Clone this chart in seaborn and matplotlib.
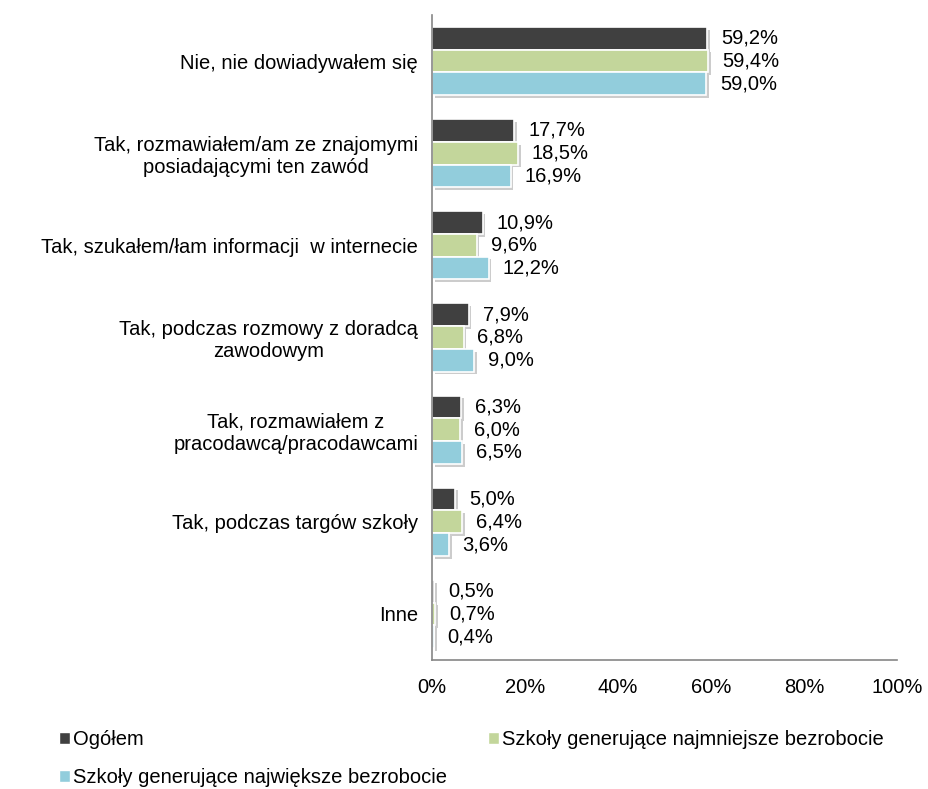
import numpy as np
import pandas as pd
import seaborn as sns
import matplotlib
matplotlib.use("Agg")
import matplotlib.pyplot as plt
import matplotlib.patheffects as pe
from matplotlib.patches import Patch

# data
categories = [
    "Nie, nie dowiadywałem się",
    "Tak, rozmawiałem/am ze znajomymi\nposiadającymi ten zawód",
    "Tak, szukałem/łam informacji  w internecie",
    "Tak, podczas rozmowy z doradcą\nzawodowym",
    "Tak, rozmawiałem z\npracodawcą/pracodawcami",
    "Tak, podczas targów szkoły",
    "Inne",
]
series = ["Ogółem",
          "Szkoły generujące najmniejsze bezrobocie",
          "Szkoły generujące największe bezrobocie"]
ogolem = [59.2, 17.7, 10.9, 7.9, 6.3, 5.0, 0.5]
najmniejsze = [59.4, 18.5, 9.6, 6.8, 6.0, 6.4, 0.7]
najwieksze = [59.0, 16.9, 12.2, 9.0, 6.5, 3.6, 0.4]
colors = ["#404040", "#C3D69B", "#92CDDC"]

rows = []
for s, vals in zip(series, [ogolem, najmniejsze, najwieksze]):
    for c, v in zip(categories, vals):
        rows.append({"kategoria": c, "seria": s, "wartosc": v / 100})
df = pd.DataFrame(rows)

sns.set_style("white")
plt.rcParams["font.family"] = ["Liberation Sans", "DejaVu Sans"]
plt.rcParams["text.color"] = "black"
plt.rcParams["xtick.labelcolor"] = "black"
plt.rcParams["ytick.labelcolor"] = "black"
fs = 14.5

fig = plt.figure(figsize=(9.29, 7.89), dpi=100)
ax = fig.add_axes([0.465, 0.1635, 0.5005, 0.8175])

sns.barplot(data=df, y="kategoria", x="wartosc", hue="seria", order=categories,
            hue_order=series, palette=colors, saturation=1, orient="h", width=0.74,
            edgecolor="white", linewidth=1.2, legend=False, ax=ax)

shadow = [pe.SimplePatchShadow(offset=(2, -2), shadow_rgbFace="gray", alpha=0.4), pe.Normal()]
for cont in ax.containers:
    for bar in cont:
        bar.set_path_effects(shadow)
    labels = [f"{b.get_width() * 100:.1f}%".replace(".", ",") for b in cont]
    ax.bar_label(cont, labels=labels, padding=10, fontsize=fs, color="black")

ax.set_xlim(0, 1)
ax.set_ylim(len(categories) - 0.5, -0.5)
ax.set_xticks(np.linspace(0, 1, 6))
ax.set_xticklabels([f"{int(t)}%" for t in np.linspace(0, 100, 6)], fontsize=fs)
ax.set_yticks(range(len(categories)))
ax.set_yticklabels(categories, fontsize=fs, multialignment="center")
ax.set_yticks(np.arange(-0.5, len(categories), 1), minor=True)
ax.tick_params(axis="y", which="major", length=0, pad=10)
ax.tick_params(axis="y", which="minor", length=5, color="#868686", direction="out")
ax.tick_params(axis="x", length=5, color="#868686", direction="out", pad=8)
ax.set_xlabel("")
ax.set_ylabel("")
for side in ["top", "right"]:
    ax.spines[side].set_visible(False)
for side in ["left", "bottom"]:
    ax.spines[side].set_color("#868686")
    ax.spines[side].set_linewidth(1.2)

# legend fills column by column, so order the handles to get two rows like the original
handles = [Patch(facecolor=c, edgecolor="white", label=s) for c, s in zip(colors, series)]
handles = [handles[0], handles[2], handles[1]]
fig.legend(handles=handles, loc="upper left", bbox_to_anchor=(0.055, 0.085), ncol=2,
           frameon=False, fontsize=fs, handlelength=0.55, handleheight=0.55,
           handletextpad=0.15, columnspacing=2.0, labelspacing=0.95, borderaxespad=0)

fig.savefig("out.png", dpi=100)
